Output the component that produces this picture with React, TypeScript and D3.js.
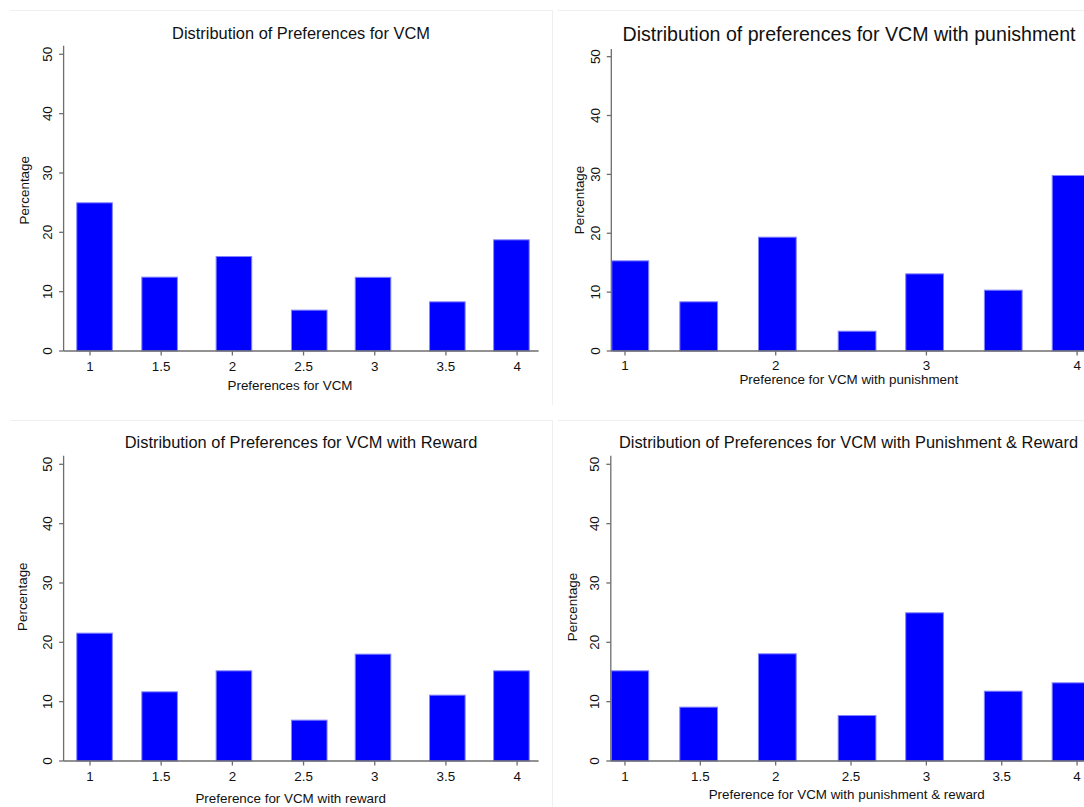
import React from 'react';
import * as d3 from 'd3';

// ---- Data ----
const binCenters = [1.032, 1.489, 2.011, 2.54, 2.988, 3.51, 3.96];
const binWidth = 0.257;

const vcmPct = [25.06, 12.53, 16.01, 6.97, 12.5, 8.37, 18.82];
const punishPct = [15.4, 8.44, 19.42, 3.45, 13.19, 10.42, 29.9];
const rewardPct = [21.63, 11.74, 15.28, 6.97, 18.09, 11.18, 15.28];
const bothPct = [15.28, 9.16, 18.15, 7.75, 25.06, 11.85, 13.26];

const yTicks = [0, 10, 20, 30, 40, 50];
const xTicksHalf = [1, 1.5, 2, 2.5, 3, 3.5, 4];
const xTicksWhole = [1, 2, 3, 4];

const titles = [
  'Distribution of Preferences for VCM',
  'Distribution of preferences for VCM with punishment',
  'Distribution of Preferences for VCM with Reward',
  'Distribution of Preferences for VCM with Punishment & Reward',
];
const xLabels = [
  'Preferences for VCM',
  'Preference for VCM with punishment',
  'Preference for VCM with reward',
  'Preference for VCM with punishment & reward',
];
const yLabel = 'Percentage';

const FONT = '"Liberation Sans", Arial, Helvetica, sans-serif';
const AXIS = '#6e6e6e';
const BORDER = '#eef0f0';

type Panel = {
  values: number[];
  title: string;
  xLabel: string;
  xTicks: number[];
  xDomain: [number, number];
  xRange: [number, number];
  yDomain: [number, number];
  yRange: [number, number];
  titleX: number;
  titleY: number;
  titleSize: number;
  xLabelX: number;
  xLabelY: number;
  xTickY: number;
  yLabelX: number;
  yLabelY: number;
};

const panels: Panel[] = [
  {
    values: vcmPct, title: titles[0], xLabel: xLabels[0], xTicks: xTicksHalf,
    xDomain: [0.8146, 4.151], xRange: [63.6, 538.6],
    yDomain: [0, 51.45], yRange: [351, 45.7],
    titleX: 301, titleY: 38.5, titleSize: 16.4,
    xLabelX: 290, xLabelY: 389.5, xTickY: 370.5,
    yLabelX: 29.2, yLabelY: 190.3,
  },
  {
    values: punishPct, title: titles[1], xLabel: xLabels[1], xTicks: xTicksWhole,
    xDomain: [0.909, 4.061], xRange: [611.3, 1086.3],
    yDomain: [0, 51.3], yRange: [351, 49],
    titleX: 849, titleY: 40.5, titleSize: 19.6,
    xLabelX: 848.8, xLabelY: 384, xTickY: 369.5,
    yLabelX: 584.3, yLabelY: 200,
  },
  {
    values: rewardPct, title: titles[2], xLabel: xLabels[2], xTicks: xTicksHalf,
    xDomain: [0.8146, 4.151], xRange: [63.6, 538.6],
    yDomain: [0, 51.45], yRange: [761, 455.7],
    titleX: 301, titleY: 448, titleSize: 16.4,
    xLabelX: 290.7, xLabelY: 803, xTickY: 780.5,
    yLabelX: 26.7, yLabelY: 596.7,
  },
  {
    values: bothPct, title: titles[3], xLabel: xLabels[3], xTicks: xTicksHalf,
    xDomain: [0.906, 4.058], xRange: [610.8, 1085.8],
    yDomain: [0, 51.45], yRange: [761, 455.7],
    titleX: 848.5, titleY: 448, titleSize: 16.4,
    xLabelX: 846.7, xLabelY: 799, xTickY: 780.5,
    yLabelX: 577.4, yLabelY: 607,
  },
];

function Chart({ p }: { p: Panel }) {
  const x = d3.scaleLinear().domain(p.xDomain).range(p.xRange);
  const y = d3.scaleLinear().domain(p.yDomain).range(p.yRange);
  const x0 = p.xRange[0];
  const y0 = y(0);
  return (
    <g>
      <text x={p.titleX} y={p.titleY} textAnchor="middle" fontSize={p.titleSize} fill="#111">
        {p.title}
      </text>
      {p.values.map((v, i) => {
        const left = x(binCenters[i] - binWidth / 2);
        const right = x(binCenters[i] + binWidth / 2);
        const top = y(v);
        return (
          <rect
            key={i}
            x={Math.max(left, x0) + 0.5}
            y={top + 0.5}
            width={right - Math.max(left, x0) - 1}
            height={y0 - top - 0.5}
            fill="#0000ff"
            stroke="#8484ff"
            strokeWidth={1}
          />
        );
      })}
      {/* y axis */}
      <line x1={x0} x2={x0} y1={p.yRange[1]} y2={y0} stroke={AXIS} strokeWidth={1.3} />
      {yTicks.map((t) => (
        <g key={t}>
          <line x1={x0 - 4.5} x2={x0} y1={y(t)} y2={y(t)} stroke={AXIS} strokeWidth={1.3} />
          <text
            transform={`translate(${x0 - 11.5},${y(t)}) rotate(-90)`}
            textAnchor="middle"
            fontSize={13.4}
            fill="#111"
          >
            {t}
          </text>
        </g>
      ))}
      {/* x axis */}
      <line x1={x0} x2={p.xRange[1]} y1={y0} y2={y0} stroke={AXIS} strokeWidth={1.3} />
      {p.xTicks.map((t) => (
        <g key={t}>
          <line x1={x(t)} x2={x(t)} y1={y0} y2={y0 + 4.5} stroke={AXIS} strokeWidth={1.3} />
          <text x={x(t)} y={p.xTickY} textAnchor="middle" fontSize={13.4} fill="#111">
            {String(t)}
          </text>
        </g>
      ))}
      <text x={p.xLabelX} y={p.xLabelY} textAnchor="middle" fontSize={13.4} fill="#111">
        {p.xLabel}
      </text>
      <text
        transform={`translate(${p.yLabelX},${p.yLabelY}) rotate(-90)`}
        textAnchor="middle"
        fontSize={13.4}
        fill="#111"
      >
        {yLabel}
      </text>
    </g>
  );
}

export default function App() {
  return (
    <svg
      width={1084}
      height={807}
      style={{ position: 'absolute', left: 0, top: 0, background: '#fff' }}
      fontFamily={FONT}
    >
      <rect x={0} y={0} width={1084} height={807} fill="#fff" />
      {/* faint panel borders */}
      <line x1={10} x2={552.5} y1={10.5} y2={10.5} stroke={BORDER} />
      <line x1={552.5} x2={552.5} y1={10} y2={405} stroke={BORDER} />
      <line x1={557.7} x2={1084} y1={10.5} y2={10.5} stroke={BORDER} />
      <line x1={10} x2={552.5} y1={420.5} y2={420.5} stroke={BORDER} />
      <line x1={552.5} x2={552.5} y1={420} y2={807} stroke={BORDER} />
      <line x1={557.7} x2={1084} y1={420.5} y2={420.5} stroke={BORDER} />
      {panels.map((p, i) => (
        <Chart key={i} p={p} />
      ))}
    </svg>
  );
}
